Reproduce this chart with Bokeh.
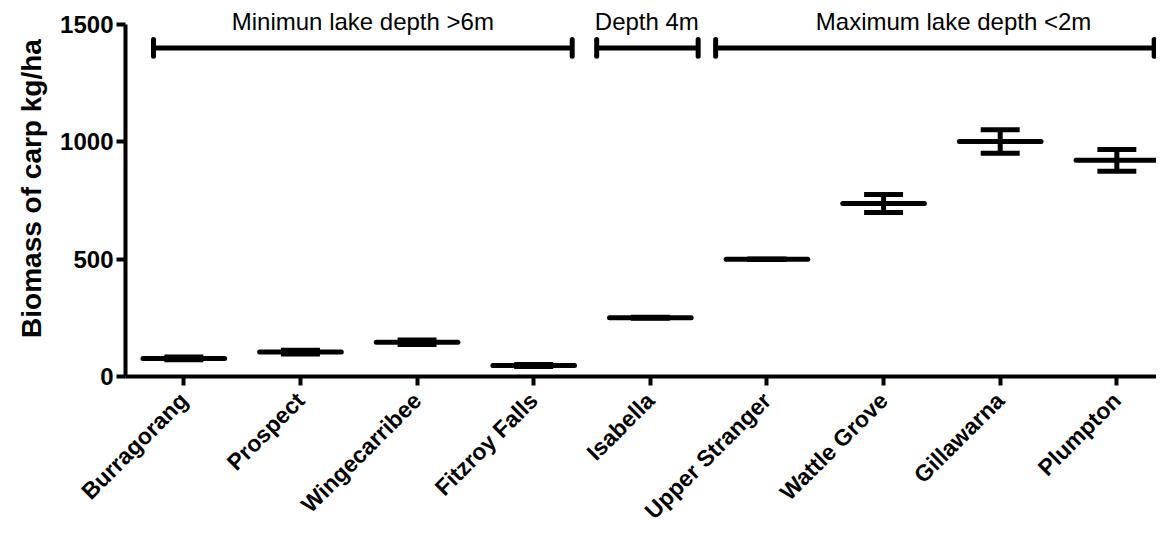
import math
import numpy as np
from bokeh.plotting import figure
from bokeh.models import Range1d, FixedTicker, Label
from bokeh.core.properties import value
from bokeh.embed import file_html
from bokeh.resources import INLINE

# ---- data ----
lakes = ["Burragorang", "Prospect", "Wingecarribee", "Fitzroy Falls", "Isabella",
         "Upper Stranger", "Wattle Grove", "Gillawarna", "Plumpton"]
biomass_mean = [77, 104, 146, 47, 250, 500, 737, 1001, 921]
biomass_err = [6, 8, 10, 4, 2, 1, 38, 50, 46]
y_ticks = [0, 500, 1000, 1500]
group_labels = ["Minimun lake depth >6m", "Depth 4m", "Maximum lake depth <2m"]

# ---- layout constants ----
bracket_x0 = [-0.26, 3.54, 4.56]
bracket_x1 = [3.33, 4.41, 8.32]
bracket_y = 1400
bracket_cap = 36
label_x = [1.535, 3.97, 6.6]
label_y = 1512
mean_half = 0.35
cap_half = 0.167
FONT = "Liberation Sans"

x = np.arange(len(lakes))
m = np.array(biomass_mean, dtype=float)
e = np.array(biomass_err, dtype=float)

p = figure(width=1156, height=536, output_backend="svg", toolbar_location=None,
           x_range=Range1d(-0.5, 8.34), y_range=Range1d(0, 1602),
           min_border_left=125, min_border_right=0, min_border_top=0,
           min_border_bottom=160)
p.outline_line_color = None
p.grid.visible = False
p.background_fill_color = "white"
p.border_fill_color = "white"

# error bars
p.segment(x0=x, x1=x, y0=m - e, y1=m + e, line_color="black", line_width=5)
p.segment(x0=x - cap_half, x1=x + cap_half, y0=m + e, y1=m + e,
          line_color="black", line_width=5)
p.segment(x0=x - cap_half, x1=x + cap_half, y0=m - e, y1=m - e,
          line_color="black", line_width=5)
# means
p.segment(x0=x - mean_half, x1=x + mean_half, y0=m, y1=m, line_color="black",
          line_width=5, line_cap="round")

# group brackets
bx0 = np.array(bracket_x0)
bx1 = np.array(bracket_x1)
by = np.full(3, bracket_y, dtype=float)
p.segment(x0=bx0, x1=bx1, y0=by, y1=by, line_color="black", line_width=5)
p.segment(x0=bx0, x1=bx0, y0=by - bracket_cap, y1=by + bracket_cap,
          line_color="black", line_width=5, line_cap="round")
p.segment(x0=bx1, x1=bx1, y0=by - bracket_cap, y1=by + bracket_cap,
          line_color="black", line_width=5, line_cap="round")
for lx, txt in zip(label_x, group_labels):
    p.add_layout(Label(x=lx, y=label_y, text=txt, text_align="center",
                       text_baseline="alphabetic", text_font=FONT,
                       text_font_size="24px", text_color="black"))

# axes
xa = p.xaxis[0]
xa.ticker = FixedTicker(ticks=list(range(len(lakes))))
xa.major_label_overrides = {i: n for i, n in enumerate(lakes)}
xa.major_label_orientation = math.pi / 4
xa.minor_tick_line_color = None
xa.axis_line_width = 4
xa.major_tick_line_width = 4
xa.major_tick_in = 0
xa.major_tick_out = 9
xa.major_label_text_font = FONT
xa.major_label_text_font_style = "bold"
xa.major_label_text_font_size = "23px"
xa.major_label_text_color = "black"
xa.major_label_standoff = 11

ya = p.yaxis[0]
ya.ticker = FixedTicker(ticks=y_ticks)
ya.bounds = (0, 1500)
ya.minor_tick_line_color = None
ya.axis_line_width = 4
ya.major_tick_line_width = 4
ya.major_tick_in = 0
ya.major_tick_out = 9
ya.major_label_text_font = FONT
ya.major_label_text_font_style = "bold"
ya.major_label_text_font_size = "24px"
ya.major_label_text_color = "black"
ya.major_label_standoff = 3
ya.axis_label = "Biomass of carp kg/ha"
ya.axis_label_text_font = FONT
ya.axis_label_text_font_style = "bold"
ya.axis_label_text_font_size = "28px"
ya.axis_label_text_color = "black"
ya.axis_label_standoff = 10

open("out.html", "w").write(file_html(p, INLINE))
